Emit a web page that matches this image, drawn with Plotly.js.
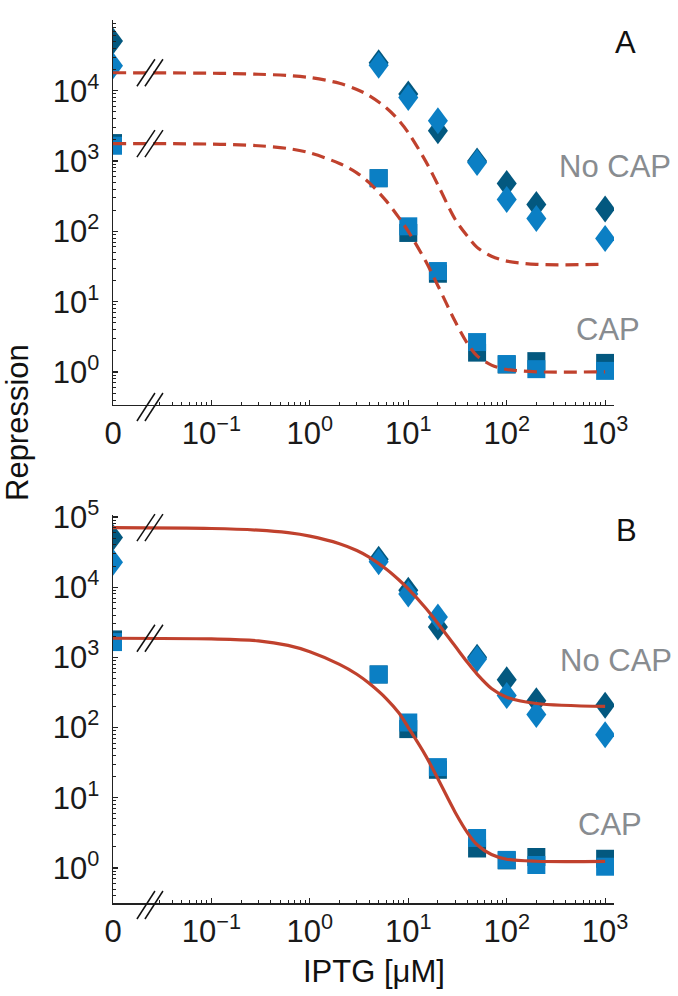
<!DOCTYPE html>
<html>
<head>
<meta charset="utf-8">
<script src="https://cdn.plot.ly/plotly-3.0.1.min.js"></script>
<style>html,body{margin:0;padding:0;background:#fff;}#plot{width:678px;height:996px;}</style>
</head>
<body>
<div id="plot"></div>
<script>
// ---- data ----
const conc = [0, 5, 10, 20, 50, 100, 200, 1000];           // IPTG [µM]
const noCapDark  = [51000, 25000, 9000, 2700, 1000, 480, 241, 208];
const noCapLight = [22600, 23000, 8000, 3750, 950, 285, 153, 79];
const capDark    = [1800, 570, 95, 25, 1.89, 1.28, 1.43, 1.35];
const capLight   = [1650, 570, 118, 27.3, 2.67, 1.30, 1.10, 1.04];

const fitX = [0, 0.1, 0.3, 0.6, 1, 2, 3, 4, 6, 8, 10, 15, 20, 30, 40, 50, 70, 100, 200, 1000];
const fitA_noCap = [18000, 17710, 17140, 16440, 15380, 12760, 10420, 8510, 5675, 3793, 2535, 998, 459, 147.6, 84.9, 59.3, 44.4, 37.8, 34.0, 34.0];
const fitA_cap   = [1771, 1742, 1649, 1507, 1306, 923, 679, 494, 269, 158, 100, 37.8, 16.9, 5.22, 2.54, 1.70, 1.256, 1.089, 1.009, 1.009];
const fitB_noCap = [70400, 68550, 64860, 59700, 53330, 41590, 33270, 26790, 18030, 12760, 9440, 5040, 3041, 1435, 843, 577, 361, 271, 220, 200];
const fitB_cap   = [1871, 1828, 1718, 1479, 1202, 794, 575, 427, 257, 162, 100, 39.8, 18.6, 6.17, 3.16, 2.14, 1.55, 1.33, 1.245, 1.24];

const xTickVals = [0.01, 0.1, 1, 10, 100, 1000];
const xTickText = ['0', '10<sup>−1</sup>', '10<sup>0</sup>', '10<sup>1</sup>', '10<sup>2</sup>', '10<sup>3</sup>'];
const yTickVals = [1, 10, 100, 1000, 10000, 100000];
const yTickText = ['10<sup>0</sup>', '10<sup>1</sup>', '10<sup>2</sup>', '10<sup>3</sup>', '10<sup>4</sup>', '10<sup>5</sup>'];

// ---- styling / geometry ----
const W = 678, H = 996;
const M = {l: 113, r: 64, t: 20, b: 93};
const PW = W - M.l - M.r, PH = H - M.t - M.b;
const X_RANGE = [-2, 3.09];
const DOM_A = [0.564, 1], DOM_B = [0, 0.4394];
const Y_RANGE_A = [-0.468, 5.005], Y_RANGE_B = [-0.5, 5.028];
const ZERO_POS = 0.01;   // where concentration 0 is drawn on the log axis
const toPlotX = v => v.map(c => c === 0 ? ZERO_POS : c);
const DARK = '#03587f', LIGHT = '#0b7fc4', RED = '#c0412d', GRAY = '#888c90';
const FONT = 'Liberation Sans, Arial, Helvetica, sans-serif';
const DASH = '13px,7px';

function minorVals(lo, hi, start) {
  const out = [];
  for (let e = lo; e < hi; e++) {
    for (let m = 2; m <= 9; m++) {
      const v = m * Math.pow(10, e);
      if (v >= start) out.push(v);
    }
  }
  return out;
}
const xMinor = minorVals(-2, 3, 0.03);
const yMinor = minorVals(-1, 5, 0.35);

function markerTrace(y, color, symbol, size, xa, ya, uid) {
  return {
    x: toPlotX(conc), y: y, xaxis: xa, yaxis: ya, type: 'scatter', mode: 'markers',
    uid: uid, hoverinfo: 'skip', showlegend: false,
    marker: {symbol: symbol, size: size, color: color, line: {width: 0}}
  };
}
function fitTrace(y, dash, xa, ya) {
  return {
    x: toPlotX(fitX), y: y, xaxis: xa, yaxis: ya, type: 'scatter', mode: 'lines',
    hoverinfo: 'skip', showlegend: false,
    line: {color: RED, width: 3.2, dash: dash, shape: 'spline', smoothing: 0.9}
  };
}

const traces = [];
[['x', 'y', DASH, fitA_noCap, fitA_cap, 'A'], ['x2', 'y2', 'solid', fitB_noCap, fitB_cap, 'B']].forEach(p => {
  const [xa, ya, dash, fN, fC, tag] = p;
  traces.push(markerTrace(noCapDark, DARK, 'diamond', 15.4, xa, ya, 'dia' + tag + 'd'));
  traces.push(markerTrace(noCapLight, LIGHT, 'diamond', 15.4, xa, ya, 'dia' + tag + 'l'));
  traces.push(markerTrace(capDark, DARK, 'square', 18, xa, ya, 'sq' + tag + 'd'));
  traces.push(markerTrace(capLight, LIGHT, 'square', 18, xa, ya, 'sq' + tag + 'l'));
  traces.push(fitTrace(fN, dash, xa, ya));
  traces.push(fitTrace(fC, dash, xa, ya));
});

const tickFont = {family: FONT, size: 31, color: '#1a1a1a'};
function xAxis(anchor) {
  return {
    type: 'log', range: X_RANGE, anchor: anchor,
    showline: true, linecolor: '#222', linewidth: 1.5, mirror: false,
    showgrid: false, zeroline: false,
    tickmode: 'array', tickvals: xTickVals, ticktext: xTickText,
    ticks: 'inside', ticklen: 5, tickwidth: 1.2, tickcolor: '#222',
    ticklabelstandoff: 0,
    minor: {tickmode: 'array', tickvals: xMinor, ticks: 'inside', ticklen: 3, tickwidth: 1, tickcolor: '#222', showgrid: false},
    tickfont: tickFont
  };
}
function yAxis(anchor, domain, range) {
  return {
    type: 'log', range: range, domain: domain, anchor: anchor,
    showline: true, linecolor: '#222', linewidth: 1.5, mirror: false,
    showgrid: false, zeroline: false,
    tickmode: 'array', tickvals: yTickVals, ticktext: yTickText,
    ticks: 'inside', ticklen: 5, tickwidth: 1.2, tickcolor: '#222',
    ticklabelstandoff: 6,
    minor: {tickmode: 'array', tickvals: yMinor, ticks: 'inside', ticklen: 3, tickwidth: 1, tickcolor: '#222', showgrid: false},
    tickfont: tickFont
  };
}

// pixel -> paper helpers (for text and break-mark placement)
const PX = p => (p - M.l) / PW;
const PY = p => (H - M.b - p) / PH;
// data -> paper on the log axes
const xPaper = v => (Math.log10(v) - X_RANGE[0]) / (X_RANGE[1] - X_RANGE[0]);
const yPaper = (v, dom, rng) => dom[0] + (Math.log10(v) - rng[0]) / (rng[1] - rng[0]) * (dom[1] - dom[0]);

function txt(text, x, y, color, extra) {
  return Object.assign({text: text, xref: 'paper', yref: 'paper', x: PX(x), y: PY(y),
    xanchor: 'center', yanchor: 'middle', showarrow: false,
    font: {family: FONT, size: 31, color: color}}, extra || {});
}

const annotations = [
  txt('A', 625, 42, '#111'),
  txt('B', 626, 530, '#111'),
  txt('No CAP', 615, 167, GRAY),
  txt('CAP', 608, 330, GRAY),
  txt('No CAP', 616, 660, GRAY),
  txt('CAP', 610, 824, GRAY),
  txt('Repression', 17, 423, '#111', {textangle: -90}),
  txt('IPTG [μM]', 374, 971, '#111')
];

// axis-break marks "//" (centre in paper coords, offsets in pixels)
const BREAK_X = 0.0243;
function slashes(cx, cy, dyLo, dyHi) {
  const out = [];
  [[-14, 4], [-6, 12]].forEach(([a, b]) => {
    out.push({type: 'line', xref: 'paper', yref: 'paper',
      x0: cx + a / PW, x1: cx + b / PW, y0: cy + dyLo / PH, y1: cy + dyHi / PH,
      line: {color: '#111', width: 1.5}});
  });
  return out;
}
const bx = xPaper(BREAK_X);
const shapes = [].concat(
  slashes(bx, DOM_A[0], -16, 12),
  slashes(bx, DOM_B[0], -16, 12),
  slashes(bx, yPaper(fitA_noCap[0], DOM_A, Y_RANGE_A), -13.5, 13.5),
  slashes(bx, yPaper(fitA_cap[0], DOM_A, Y_RANGE_A), -13.5, 13.5),
  slashes(bx, yPaper(fitB_noCap[0], DOM_B, Y_RANGE_B), -13.5, 13.5),
  slashes(bx, yPaper(fitB_cap[0], DOM_B, Y_RANGE_B), -13.5, 13.5)
);

const layout = {
  width: W, height: H,
  margin: M,
  paper_bgcolor: '#fff', plot_bgcolor: '#fff',
  showlegend: false,
  xaxis: xAxis('y'),
  yaxis: yAxis('x', DOM_A, Y_RANGE_A),
  xaxis2: xAxis('y2'),
  yaxis2: yAxis('x2', DOM_B, Y_RANGE_B),
  annotations: annotations,
  shapes: shapes
};

function stretchDiamonds() {
  document.querySelectorAll('g[class*="tracedia"] path.point').forEach(p => {
    const t = p.getAttribute('transform') || '';
    if (t.indexOf('scale') < 0) p.setAttribute('transform', t + ' scale(1,1.35)');
  });
}

const gd = document.getElementById('plot');
Plotly.newPlot(gd, traces, layout, {staticPlot: true, displayModeBar: false}).then(() => {
  stretchDiamonds();
  gd.on && gd.on('plotly_afterplot', stretchDiamonds);
});
</script>
</body>
</html>
